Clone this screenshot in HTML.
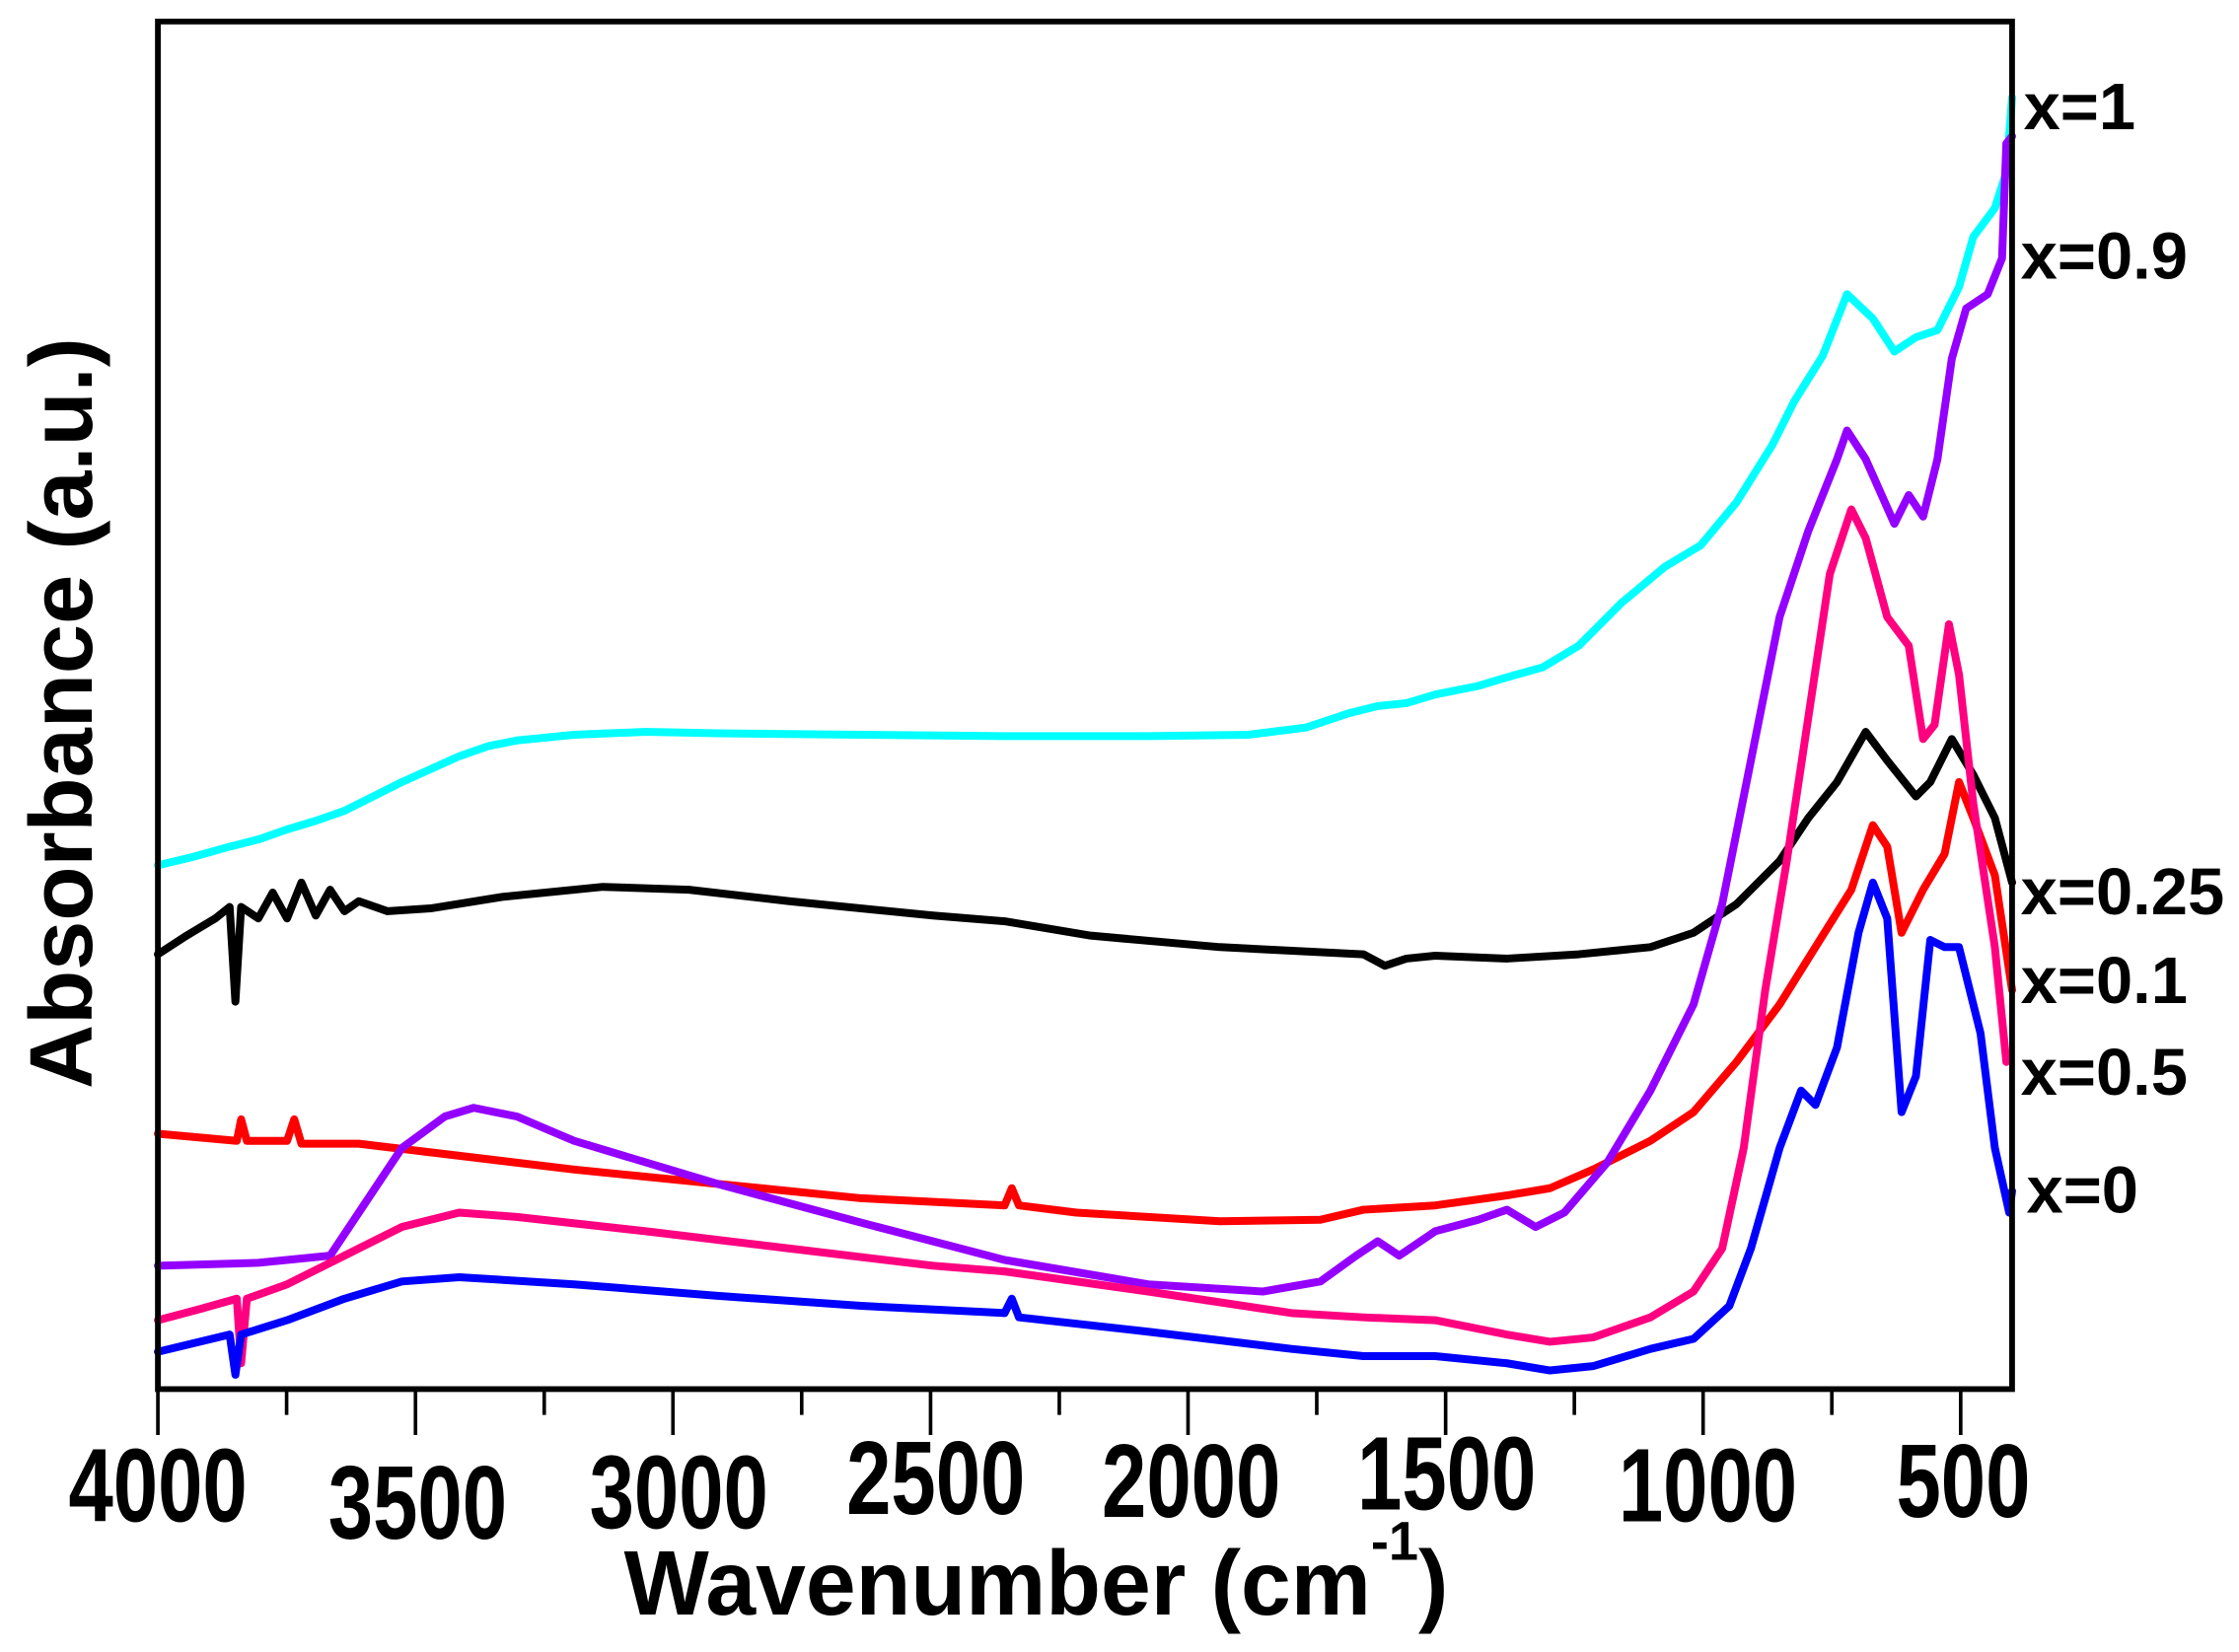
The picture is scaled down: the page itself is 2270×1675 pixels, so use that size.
<!DOCTYPE html>
<html><head><meta charset="utf-8"><style>
html,body{margin:0;padding:0;background:#fff;}
svg{display:block;}
text{font-family:"Liberation Sans",Arial,sans-serif;font-weight:bold;fill:#000;}
</style></head><body>
<svg width="2270" height="1675" viewBox="0 0 1560.1 1151.2" xmlns="http://www.w3.org/2000/svg">
<rect width="1560.1" height="1151.2" fill="#fff"/>
<g fill="none" stroke-width="5.5" stroke-linejoin="round" stroke-linecap="round">
<polyline stroke="#00ffff" points="110,603 135,597 160,590 180,585 200,578 220,572 240,565 260,555 280,545 300,536 320,527 340,520 360,516 400,512 450,510 500,511 600,512 700,513 800,513 870,512 910,507 940,497 960,492 980,490 1000,484 1030,478 1050,472 1075,465 1100,450 1130,420 1160,395 1185,380 1210,350 1235,310 1250,280 1270,248 1287,205 1305,222 1320,245 1335,235 1350,230 1365,200 1375,165 1390,145 1398,120 1402,68"/>
<polyline stroke="#000" points="110,665 130,652 150,640 160,632 164,698 168,632 180,640 190,622 200,640 210,615 220,638 230,620 240,635 250,628 270,635 300,633 350,625 420,618 480,620 550,628 650,638 700,642 760,652 850,660 950,665 965,673 980,668 1000,666 1050,668 1100,665 1150,660 1180,650 1210,630 1240,600 1260,570 1280,545 1300,510 1315,530 1335,555 1345,545 1360,515 1375,540 1390,570 1402,615"/>
<polyline stroke="#ff0000" points="110,790 165,795 168,780 172,795 200,795 205,780 210,797 250,797 300,803 400,815 500,825 600,835 700,840 705,828 710,840 750,845 850,851 920,850 950,843 1000,840 1050,833 1080,828 1110,815 1150,795 1180,775 1210,740 1240,700 1265,660 1290,620 1305,575 1315,590 1325,650 1340,620 1355,595 1365,545 1375,570 1390,610 1402,690"/>
<polyline stroke="#9400ff" points="110,882 180,880 230,875 250,845 280,800 310,778 330,772 360,778 400,795 500,825 600,852 700,878 800,895 880,900 920,893 945,875 960,865 975,875 1000,858 1030,850 1050,843 1070,855 1090,845 1120,810 1150,760 1180,700 1200,630 1220,530 1240,430 1260,370 1280,320 1287,300 1300,320 1320,365 1330,345 1340,360 1350,320 1360,250 1370,215 1385,205 1395,180 1398,100 1402,95"/>
<polyline stroke="#ff0080" points="110,920 140,912 165,905 168,950 172,905 200,895 240,875 280,855 320,845 360,848 450,858 550,870 650,882 700,886 800,900 900,915 950,918 1000,920 1050,930 1080,935 1110,932 1150,918 1180,900 1200,870 1215,800 1230,690 1245,600 1260,500 1275,400 1290,355 1300,375 1315,430 1330,450 1340,515 1348,505 1358,435 1365,470 1375,560 1390,660 1398,740"/>
<polyline stroke="#0000ff" points="110,942 160,930 164,958 168,930 200,920 240,905 280,893 320,890 400,895 500,903 600,910 700,915 705,905 710,918 800,928 900,940 950,945 1000,945 1050,950 1080,955 1110,952 1150,940 1180,933 1205,910 1220,870 1240,800 1255,760 1265,770 1280,730 1295,650 1305,615 1315,640 1325,775 1335,750 1345,655 1355,660 1365,660 1380,720 1390,800 1400,845 1402,830"/>
</g>
<rect x="110" y="15" width="1292" height="953" fill="none" stroke="#000" stroke-width="4"/>
<g stroke="#000" stroke-width="2.5">
<line x1="110.0" y1="968" x2="110.0" y2="1000"/><line x1="199.7" y1="968" x2="199.7" y2="986"/>
<line x1="289.5" y1="968" x2="289.5" y2="1000"/><line x1="379.2" y1="968" x2="379.2" y2="986"/>
<line x1="468.9" y1="968" x2="468.9" y2="1000"/><line x1="558.6" y1="968" x2="558.6" y2="986"/>
<line x1="648.4" y1="968" x2="648.4" y2="1000"/><line x1="738.1" y1="968" x2="738.1" y2="986"/>
<line x1="827.8" y1="968" x2="827.8" y2="1000"/><line x1="917.5" y1="968" x2="917.5" y2="986"/>
<line x1="1007.3" y1="968" x2="1007.3" y2="1000"/><line x1="1097.0" y1="968" x2="1097.0" y2="986"/>
<line x1="1186.7" y1="968" x2="1186.7" y2="1000"/><line x1="1276.4" y1="968" x2="1276.4" y2="986"/>
<line x1="1366.2" y1="968" x2="1366.2" y2="1000"/>
</g>
<g font-size="56" text-anchor="middle">
<text transform="translate(110 1060) scale(1 1.3)">4000</text>
<text transform="translate(291 1072) scale(1 1.3)">3500</text>
<text transform="translate(473 1065) scale(1 1.3)">3000</text>
<text transform="translate(652 1055) scale(1 1.3)">2500</text>
<text transform="translate(830 1057) scale(1 1.3)">2000</text>
<text transform="translate(1008 1052) scale(1 1.3)">1500</text>
<text transform="translate(1190 1060) scale(1 1.3)">1000</text>
<text transform="translate(1368 1057) scale(1 1.3)">500</text>
</g>
<text x="0" y="0" font-size="64" text-anchor="middle" transform="translate(722 1125) scale(0.98 1)">Wavenumber (cm<tspan font-size="38" dy="-38">-1</tspan><tspan dy="38">)</tspan></text>
<text transform="translate(64 497) rotate(-90)" font-size="62" text-anchor="middle">Absorbance (a.u.)</text>
<g font-size="46">
<text x="1410" y="90">x=1</text>
<text x="1408" y="194">x=0.9</text>
<text x="1408" y="637">x=0.25</text>
<text x="1408" y="699">x=0.1</text>
<text x="1408" y="763">x=0.5</text>
<text x="1412" y="845">x=0</text>
</g>
</svg>
</body></html>
